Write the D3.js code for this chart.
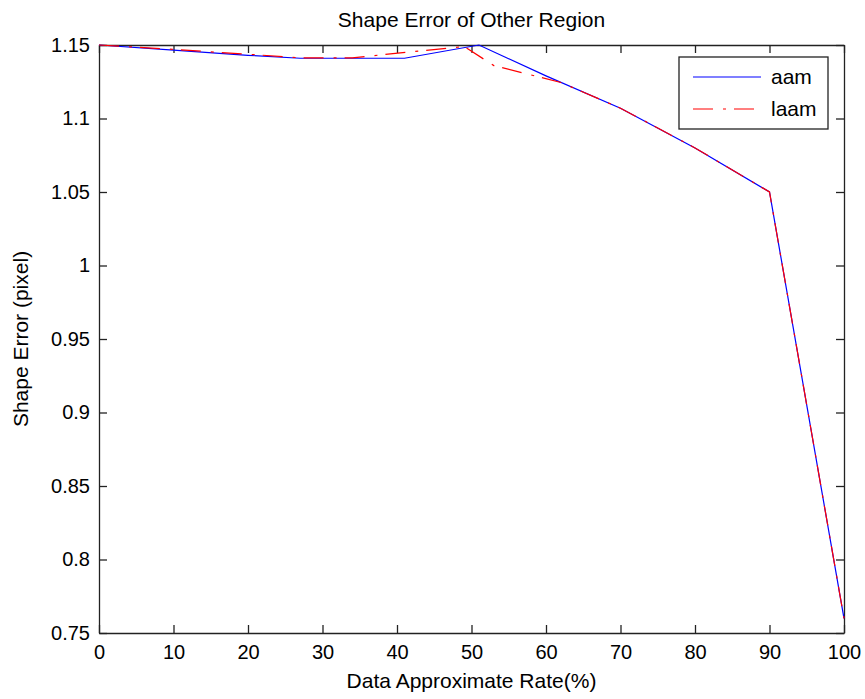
<!DOCTYPE html>
<html>
<head>
<meta charset="utf-8">
<script src="https://cdn.jsdelivr.net/npm/d3@7"></script>
<style>
  html, body { margin: 0; padding: 0; background: #fff; }
  svg { display: block; }
  text { font-family: Arial, "Liberation Sans", Helvetica, sans-serif; fill: #000; }
</style>
</head>
<body>
<svg id="chart" width="865" height="699"></svg>
<script>
// ---- data ----
const titleText = "Shape Error of Other Region";
const xLabel = "Data Approximate Rate(%)";
const yLabel = "Shape Error (pixel)";
const seriesNames = ["aam", "laam"];
const seriesColors = ["#0000ff", "#ff0000"];

const aamX = [0, 10, 20, 27, 41, 51, 60, 70, 80, 90, 100];
const aamY = [1.15, 1.1465, 1.143, 1.141, 1.141, 1.15, 1.129, 1.107, 1.08, 1.05, 0.76];

const laamX = [0, 10, 20, 27, 34, 49, 53, 62, 70, 80, 90, 100];
const laamY = [1.15, 1.147, 1.1437, 1.1413, 1.1413, 1.149, 1.136, 1.1245, 1.107, 1.08, 1.05, 0.76];

const xTicks = [0, 10, 20, 30, 40, 50, 60, 70, 80, 90, 100];
const xTickLabels = ["0", "10", "20", "30", "40", "50", "60", "70", "80", "90", "100"];
const yTicks = [0.75, 0.8, 0.85, 0.9, 0.95, 1, 1.05, 1.1, 1.15];
const yTickLabels = ["0.75", "0.8", "0.85", "0.9", "0.95", "1", "1.05", "1.1", "1.15"];

// ---- layout ----
const L = 99, R = 844, T = 45, B = 633;
const svg = d3.select("#chart");

const x = d3.scaleLinear().domain([0, 100]).range([L, R]);
const y = d3.scaleLinear().domain([0.75, 1.15]).range([B, T]);

const tickLen = 8;
const axisColor = "#222";

function styleAxis(g) {
  g.selectAll("path.domain").attr("stroke", axisColor).attr("stroke-width", 1.3);
  g.selectAll(".tick line").attr("stroke", axisColor).attr("stroke-width", 1.3);
  g.selectAll(".tick text").attr("font-size", 20).attr("font-family", "Arial, 'Liberation Sans', sans-serif").attr("fill", "#000");
}

// bottom axis
svg.append("g").attr("transform", `translate(0,${B})`)
  .call(d3.axisBottom(x).tickValues(xTicks).tickFormat((d, i) => xTickLabels[i])
    .tickSizeInner(-tickLen).tickSizeOuter(0).tickPadding(12))
  .call(styleAxis);
// top axis
svg.append("g").attr("transform", `translate(0,${T})`)
  .call(d3.axisTop(x).tickValues(xTicks).tickFormat("")
    .tickSizeInner(-tickLen).tickSizeOuter(0))
  .call(styleAxis);
// left axis
svg.append("g").attr("transform", `translate(${L},0)`)
  .call(d3.axisLeft(y).tickValues(yTicks).tickFormat((d, i) => yTickLabels[i])
    .tickSizeInner(-tickLen).tickSizeOuter(0).tickPadding(9))
  .call(styleAxis);
// right axis
svg.append("g").attr("transform", `translate(${R},0)`)
  .call(d3.axisRight(y).tickValues(yTicks).tickFormat("")
    .tickSizeInner(-tickLen).tickSizeOuter(0))
  .call(styleAxis);

// ---- lines ----
const line = d3.line().x(d => x(d[0])).y(d => y(d[1]));
const aamData = aamX.map((v, i) => [v, aamY[i]]);
const laamData = laamX.map((v, i) => [v, laamY[i]]);

svg.append("path").datum(aamData)
  .attr("fill", "none").attr("stroke", seriesColors[0]).attr("stroke-width", 1.2)
  .attr("d", line);
svg.append("path").datum(laamData)
  .attr("fill", "none").attr("stroke", seriesColors[1]).attr("stroke-width", 1.2)
  .attr("stroke-dasharray", "20 10 3 8")
  .attr("d", line);

// ---- title & labels ----
svg.append("text").attr("x", (L + R) / 2).attr("y", 27)
  .attr("text-anchor", "middle").attr("font-size", 21).text(titleText);
svg.append("text").attr("x", (L + R) / 2).attr("y", 688)
  .attr("text-anchor", "middle").attr("font-size", 21).text(xLabel);
svg.append("text")
  .attr("transform", `translate(28,${(T + B) / 2}) rotate(-90)`)
  .attr("text-anchor", "middle").attr("font-size", 21).text(yLabel);

// ---- legend ----
const lg = svg.append("g");
lg.append("rect").attr("x", 679).attr("y", 57).attr("width", 149).attr("height", 72)
  .attr("fill", "#fff").attr("stroke", axisColor).attr("stroke-width", 1.3);
const legendY = [77, 109];
const dashes = [null, "20 10 3 8"];
seriesNames.forEach((name, i) => {
  const ln = lg.append("line").attr("x1", 693).attr("x2", 761)
    .attr("y1", legendY[i]).attr("y2", legendY[i])
    .attr("stroke", seriesColors[i]).attr("stroke-width", 1.2);
  if (dashes[i]) ln.attr("stroke-dasharray", dashes[i]);
  lg.append("text").attr("x", 771).attr("y", legendY[i]).attr("dy", "0.35em")
    .attr("font-size", 21).text(name);
});
</script>
</body>
</html>
